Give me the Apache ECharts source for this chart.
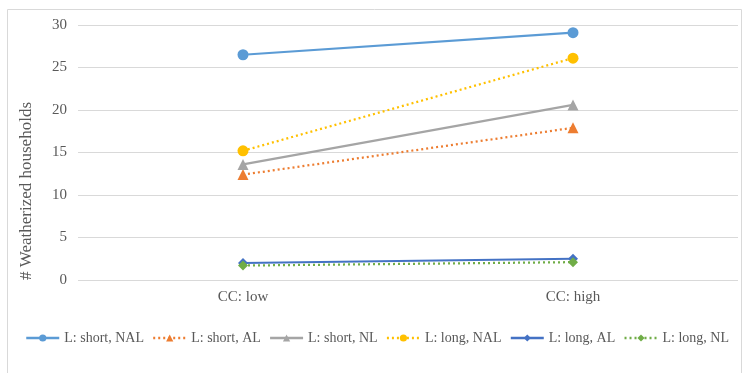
<!DOCTYPE html>
<html><head><meta charset="utf-8">
<script src="https://cdn.jsdelivr.net/npm/echarts@6/dist/echarts.min.js"></script>
<style>html,body{margin:0;padding:0;background:#fff}#c{width:745px;height:373px}</style>
</head><body><div id="c"></div>
<script>
var categories = ['CC: low', 'CC: high'];
var seriesNames = ['L: short, NAL', 'L: short, AL', 'L: short, NL', 'L: long, NAL', 'L: long, AL', 'L: long, NL'];
var shortNAL = [26.5, 29.1];
var shortAL = [12.4, 17.9];
var shortNL = [13.6, 20.6];
var longNAL = [15.2, 26.1];
var longAL = [2.0, 2.5];
var longNL = [1.7, 2.1];
var yTicks = [0, 5, 10, 15, 20, 25, 30];
var yTitle = '# Weatherized households';

var values = [shortNAL, shortAL, shortNL, longNAL, longAL, longNL];
var colors = ['#5B9BD5', '#ED7D31', '#A5A5A5', '#FFC000', '#4472C4', '#70AD47'];
var symbols = ['circle', 'triangle', 'triangle', 'circle', 'diamond', 'diamond'];
var dashed = [false, true, false, true, false, true];
var sizes = [11, 11, 11, 11, 10, 10];
var font = '"Liberation Serif", "Times New Roman", serif';

var chart = echarts.init(document.getElementById('c'), null, {renderer: 'canvas'});
chart.setOption({
  animation: false,
  textStyle: {fontFamily: font},
  graphic: [
    {type: 'rect', shape: {x: 7.5, y: 9.5, width: 734, height: 380}, style: {fill: 'none', stroke: '#d9d9d9', lineWidth: 1}},
    {type: 'text', x: 27, y: 191, rotation: Math.PI / 2,
     style: {text: yTitle, font: '17px ' + font, fill: '#595959', textAlign: 'center', textVerticalAlign: 'middle'}}
  ],
  grid: {left: 78, right: 7, top: 25, bottom: 93},
  legend: {
    data: seriesNames, top: 326, left: 20, itemWidth: 33, itemHeight: 9, itemGap: 8,
    lineStyle: {width: 2.5},
    textStyle: {fontFamily: font, fontSize: 14, color: '#595959'}
  },
  xAxis: {
    type: 'category', data: categories, boundaryGap: true,
    axisLine: {show: false}, axisTick: {show: false},
    axisLabel: {fontFamily: font, fontSize: 15, color: '#595959', margin: 10}
  },
  yAxis: {
    type: 'value', min: yTicks[0], max: yTicks[yTicks.length - 1], interval: 5,
    axisLine: {show: false}, axisTick: {show: false},
    axisLabel: {fontFamily: font, fontSize: 15, color: '#595959', margin: 11},
    splitLine: {lineStyle: {color: '#d9d9d9', width: 1}}
  },
  series: seriesNames.map(function (n, i) {
    return {
      name: n, type: 'line', data: values[i], symbol: symbols[i], symbolSize: sizes[i],
      showSymbol: true,
      itemStyle: {color: colors[i]},
      lineStyle: {color: colors[i], width: 2.25, type: dashed[i] ? [2, 3] : 'solid'}
    };
  })
});
</script></body></html>
